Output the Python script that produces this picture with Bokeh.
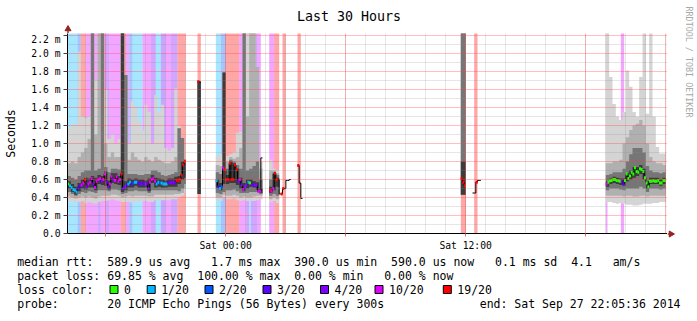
import math
import re
from bokeh.plotting import figure
from bokeh.layouts import column, row
from bokeh.models import Range1d, FixedTicker, CustomJSTickFormatter, Span
from bokeh.core.properties import value
from bokeh.embed import file_html
from bokeh.resources import INLINE

# ---------------- time base ----------------
step_h = 5 / 60.0                              # 300 s steps, in hours
start_hour = -(7 + 54 / 60 + 24 / 3600)        # Fri 16:05:36 relative to Sat 00:00
span_hours = 30

# ---------------- loss classes ----------------
loss_levels = [0, 1, 2, 3, 4, 10, 19]
loss_colors = ["#26ff00", "#00b8ff", "#0059ff", "#5e00ff", "#7e00ff", "#dd00ff", "#ff0000"]
loss_names = ["0", "1/20", "2/20", "3/20", "4/20", "10/20", "19/20"]

# ---------------- loss background stripes (step index, length, lost pings) ----------------
stripe_start = [0, 6, 8, 11, 18, 20, 23, 25, 32, 35, 37, 39, 45, 50, 53, 56, 59, 62, 66,
                78, 89, 92, 95, 103, 107, 109, 110, 114, 121, 124, 129, 138, 236, 244, 323, 332]
stripe_len = [6, 2, 3, 7, 2, 3, 2, 7, 3, 2, 2, 6, 5, 3, 3, 3, 3, 4, 5,
              2, 3, 3, 8, 4, 2, 1, 4, 2, 3, 3, 2, 2, 3, 2, 1, 2]
stripe_loss = [1, 2, 19, 10, 4, 10, 4, 10, 19, 10, 2, 1, 10, 4, 1, 3, 10, 4, 19,
               19, 1, 2, 19, 10, 4, 1, 4, 10, 10, 19, 19, 19, 19, 19, 10, 10]

# ---------------- smoke (ping distribution) columns, in ms ----------------
smoke_start = [*range(0, 71, 2), 78, *range(89, 116, 2), 121, 123, 125, 236, 238, *range(323, 358, 2)]
smoke_n = [2] * 35 + [1] + [2] + [2] * 14 + [2] * 3 + [2, 1] + [2] * 18

smoke_lo1 = [0.36, 0.35, 0.34, 0.35, 0.36, 0.34, 0.35, 0.34, 0.33, 0.35,
             0.36, 0.36, 0.37, 0.38, 0.37, 0.36, 0.35, 0.35, 0.35, 0.34,
             0.35, 0.36, 0.36, 0.36, 0.35, 0.35, 0.37, 0.37, 0.37, 0.37,
             0.37, 0.38, 0.38, 0.40, 0.42, 0.45,
             0.44,
             0.37, 0.36, 0.40, 0.38, 0.38, 0.39, 0.37, 0.36, 0.37, 0.36, 0.36, 0.36, 0.37, 0.38,
             0.35, 0.36, 0.34,
             0.43, 0.43,
             0.35, 0.35, 0.34, 0.33, 0.34, 0.33, 0.32, 0.32, 0.31, 0.31, 0.32, 0.33, 0.33, 0.33, 0.34, 0.34, 0.35, 0.35]
smoke_lo2 = [0.41, 0.40, 0.39, 0.40, 0.41, 0.40, 0.41, 0.40, 0.39, 0.41,
             0.42, 0.42, 0.42, 0.43, 0.43, 0.42, 0.40, 0.41, 0.42, 0.41,
             0.42, 0.42, 0.42, 0.42, 0.41, 0.41, 0.43, 0.43, 0.43, 0.43,
             0.43, 0.43, 0.44, 0.44, 0.45, 0.50,
             0.44,
             0.40, 0.40, 0.43, 0.42, 0.42, 0.43, 0.42, 0.40, 0.41, 0.40, 0.40, 0.41, 0.42, 0.42,
             0.38, 0.40, 0.38,
             0.43, 0.43,
             0.42, 0.42, 0.42, 0.42, 0.42, 0.41, 0.42, 0.42, 0.41, 0.41, 0.42, 0.42, 0.41, 0.42, 0.42, 0.42, 0.42, 0.42]
smoke_lo3 = [0.46, 0.44, 0.42, 0.44, 0.46, 0.45, 0.47, 0.46, 0.45, 0.48,
             0.48, 0.48, 0.47, 0.49, 0.49, 0.48, 0.44, 0.45, 0.47, 0.47,
             0.48, 0.47, 0.47, 0.47, 0.45, 0.48, 0.48, 0.48, 0.48, 0.48,
             0.48, 0.48, 0.48, 0.47, 0.50, 0.55,
             0.44,
             0.45, 0.44, 0.46, 0.48, 0.48, 0.49, 0.47, 0.45, 0.45, 0.45, 0.46, 0.46, 0.46, 0.44,
             0.42, 0.44, 0.42,
             0.43, 0.43,
             0.48, 0.50, 0.50, 0.50, 0.49, 0.48, 0.50, 0.50, 0.50, 0.50, 0.52, 0.50, 0.46, 0.50, 0.50, 0.50, 0.49, 0.50]
smoke_lo4 = [0.50, 0.46, 0.43, 0.47, 0.50, 0.49, 0.51, 0.51, 0.48, 0.55,
             0.54, 0.53, 0.49, 0.56, 0.55, 0.54, 0.46, 0.48, 0.51, 0.51,
             0.53, 0.51, 0.51, 0.51, 0.47, 0.56, 0.51, 0.52, 0.51, 0.51,
             0.52, 0.52, 0.52, 0.55, 0.60, 0.62,
             0.44,
             0.51, 0.48, 0.55, 0.55, 0.56, 0.56, 0.54, 0.50, 0.47, 0.50, 0.52, 0.51, 0.49, 0.45,
             0.45, 0.48, 0.52,
             0.43, 0.43,
             0.52, 0.55, 0.56, 0.55, 0.54, 0.53, 0.58, 0.60, 0.62, 0.64, 0.66, 0.60, 0.50, 0.55, 0.55, 0.55, 0.53, 0.55]
smoke_hi4 = [0.58, 0.55, 0.52, 0.56, 0.60, 0.62, 0.61, 0.64, 0.62, 0.65,
             0.64, 0.69, 0.59, 0.67, 0.67, 0.64, 2.23, 0.58, 0.61, 0.60,
             0.61, 0.60, 0.60, 0.59, 0.61, 0.65, 0.62, 0.61, 0.60, 0.59,
             0.61, 0.61, 0.63, 0.64, 0.80, 0.82,
             1.69,
             0.60, 0.56, 1.79, 0.65, 0.80, 0.78, 0.72, 0.62, 0.56, 0.60, 0.60, 0.58, 0.57, 0.50,
             0.52, 0.66, 0.62,
             0.80, 0.80,
             0.58, 0.61, 0.63, 0.62, 0.61, 0.61, 0.67, 0.70, 0.74, 0.74, 0.76, 0.72, 0.58, 0.62, 0.62, 0.62, 0.60, 0.62]
smoke_hi3 = [0.64, 0.62, 0.60, 0.64, 0.68, 0.70, 0.70, 2.23, 0.70, 0.72,
             2.23, 0.74, 0.68, 0.72, 0.72, 0.71, 2.23, 1.76, 0.66, 0.66,
             0.66, 0.65, 0.65, 0.66, 0.66, 0.70, 0.70, 0.68, 0.65, 0.64,
             0.65, 0.66, 0.68, 1.17, 1.06, 0.82,
             1.69,
             0.68, 0.66, 1.79, 0.72, 0.82, 0.80, 0.76, 0.72, 2.23, 0.70, 0.72, 0.75, 0.80, 0.60,
             0.60, 0.68, 0.65,
             2.23, 2.23,
             0.65, 0.66, 0.68, 0.68, 0.68, 0.72, 0.80, 0.88, 0.95, 0.95, 0.95, 0.90, 0.75, 0.70, 0.68, 0.68, 0.67, 0.68]
smoke_hi2 = [0.78, 0.80, 0.78, 0.85, 0.90, 0.95, 1.05, 2.23, 1.10, 2.23,
             2.23, 1.00, 0.85, 0.90, 0.85, 0.85, 2.23, 1.76, 0.82, 0.90,
             0.85, 0.82, 0.80, 0.85, 0.82, 0.80, 0.85, 0.82, 0.80, 0.78,
             0.78, 0.80, 0.85, 1.17, 1.06, 0.82,
             1.69,
             0.76, 0.75, 1.79, 0.80, 0.85, 0.83, 0.85, 0.95, 2.23, 1.30, 2.23, 2.23, 1.85, 0.72,
             0.70, 0.70, 0.67,
             2.23, 2.23,
             0.78, 0.78, 0.80, 0.80, 0.82, 1.00, 1.07, 1.15, 1.20, 1.22, 1.26, 1.20, 1.00, 0.85, 0.80, 0.78, 0.78, 0.76]
smoke_hi1 = [1.17, 1.21, 1.21, 2.02, 1.30, 1.28, 1.30, 2.23, 1.70, 2.23,
             2.23, 1.60, 1.05, 1.10, 1.00, 1.05, 2.23, 1.76, 1.00, 1.47,
             1.40, 1.25, 1.15, 1.43, 1.35, 1.00, 1.54, 1.35, 1.43, 0.95,
             0.92, 0.95, 1.61, 1.20, 1.06, 0.82,
             1.69,
             0.86, 0.88, 1.79, 0.86, 0.88, 0.90, 1.12, 1.13, 2.23, 2.23, 2.23, 2.23, 1.85, 0.80,
             0.82, 0.72, 0.70,
             2.23, 2.23,
             2.23, 1.74, 1.44, 1.30, 1.26, 1.35, 1.81, 1.63, 1.35, 1.30, 1.74, 2.23, 1.33, 2.23, 1.30, 0.96, 0.89, 0.89]

# ---------------- median rtt (ms) per step, with lost pings (None = no loss colour) ----------------
seg_start = [0, 78, 89, 121, 138, 236, 243, 323]
seg_median = [
    [0.55, 0.53, 0.51, 0.49, 0.48, 0.46, 0.50, 0.53, 0.54, 0.56,
     0.60, 0.52, 0.55, 0.57, 0.61, 0.55, 0.51, 0.58, 0.60, 0.61,
     0.58, 0.60, 0.66, 0.57, 0.52, 0.55, 0.63, 0.60, 0.59, 0.63,
     0.58, 0.60, 0.66, 0.50, 0.52, 0.54, 0.55, 0.57, 0.55, 0.56,
     0.57, 0.57, 0.56, 0.55, 0.55, 0.56, 0.55, 0.55, 0.50, 0.57,
     0.60, 0.61, 0.58, 0.55, 0.57, 0.56, 0.56, 0.55, 0.55, 0.55,
     0.57, 0.56, 0.56, 0.57, 0.56, 0.59, 0.59, 0.60, 0.65, 0.76, 0.80],
    [1.69, 1.68],
    [0.585, 0.52, 0.50, 0.52, 0.725, 0.71, 0.60, 0.60, 0.78, 0.60,
     0.60, 0.76, 0.71, 0.58, 0.60, 0.54, 0.49, 0.52, 0.54, 0.57,
     0.56, 0.54, 0.54, 0.54, 0.54, 0.47, 0.47, 0.84],
    [0.48, 0.47, 0.50, 0.67, 0.60, 0.60, 0.44, 0.44, 0.50, 0.50, 0.59, 0.59, 0.60],
    [0.755, 0.56, 0.39],
    [0.61, 0.57, 0.53],
    [0.45, 0.45, 0.57, 0.59, 0.59],
    [0.55, 0.57, 0.585, 0.59, 0.60, 0.60, 0.59, 0.585, 0.58, 0.58,
     0.55, 0.59, 0.66, 0.61, 0.64, 0.68, 0.66, 0.73, 0.69, 0.68,
     0.72, 0.71, 0.69, 0.62, 0.56, 0.52, 0.58, 0.58, 0.585, 0.58,
     0.58, 0.59, 0.56, 0.56, 0.59, 0.59],
]
seg_loss = [
    [0, 1, 1, 1, 1, 1, 3, 3, 10, 10,
     19, 4, 10, 10, 10, 4, 10, 10, 10, 10,
     4, 10, 10, 4, 4, 10, 10, 4, 10, 10,
     10, 10, 19, 4, 4, 3, 1, 1, 3, 2,
     1, 1, 3, 3, 4, 3, 4, 4, 4, 10,
     10, 10, 10, 1, 1, 2, 1, 1, 1, 1,
     3, 4, 4, 4, 3, 19, 19, 19, 19, 19, 19],
    [19, None],
    [1, 3, 1, 2, 10, 19, 19, 19, 19, 19,
     19, 19, 19, 4, 10, 4, 10, 4, 4, 1,
     0, 4, 3, 4, 4, 10, 10, None],
    [19, 10, 10, 19, 19, None, None, 19, 19, None, None, None, None],
    [19, None, None],
    [19, 19, 19],
    [None, None, 19, None, None],
    [10, 0, 0, 0, 0, 0, 0, 0, 0, 4,
     3, 0, 0, 0, 0, 0, 0, 0, 0, 0,
     0, 0, 0, 0, 0, 0, 0, 0, 0, 0,
     0, 0, 0, 0, 0, 0],
]

# ---------------- texts ----------------
title_text = "Last 30 Hours"
y_label = "Seconds"
x_tick_hours = [-6, 0, 6, 12, 18]
x_tick_names = {0: "Sat 00:00", 12: "Sat 12:00"}
y_ticks = [0.0, 0.2, 0.4, 0.6, 0.8, 1.0, 1.2, 1.4, 1.6, 1.8, 2.0, 2.2]
y_minor = [0.1, 0.3, 0.5, 0.7, 0.9, 1.1, 1.3, 1.5, 1.7, 1.9, 2.1]
stat_lines = [
    "median rtt:  589.9 us avg   1.7 ms max  390.0 us min  590.0 us now   0.1 ms sd  4.1   am/s",
    "packet loss: 69.85 % avg  100.00 % max  0.00 % min   0.00 % now",
    "loss color:",
    "probe:       20 ICMP Echo Pings (56 Bytes) every 300s",
]
end_text = "end: Sat Sep 27 22:05:36 2014"
watermark = "RRDTOOL / TOBI OETIKER"

MONO = "DejaVu Sans Mono"
ARROW = "#9b2020"
color_of = dict(zip(loss_levels, loss_colors))

# page geometry (pixels)
W, H = 697, 321
FL, FT, FW, FH = 67, 33, 600, 200
MAIN_B = 22                     # room under the frame for the time labels
RW = W - FL - FW                # strip right of the frame
LEG_TOP = FT + FH + MAIN_B      # where the statistics block starts
CHAR_W = 0.6021 * 11.5          # advance of DejaVu Sans Mono at 11.5px


def blank(width, height, x0, x1, y0, y1):
    f = figure(width=width, height=height, output_backend="svg", toolbar_location=None,
               x_range=Range1d(x0, x1), y_range=Range1d(y0, y1),
               x_axis_type=None, y_axis_type=None, title=None,
               min_border_left=0, min_border_right=0, min_border_top=0, min_border_bottom=0)
    f.outline_line_color = None
    f.background_fill_color = "white"
    f.border_fill_color = "white"
    f.grid.visible = False
    return f


# ---------------- main plot ----------------
p = figure(width=FL + FW, height=FH + MAIN_B, output_backend="svg", toolbar_location=None,
           x_range=Range1d(start_hour, start_hour + span_hours), y_range=Range1d(0, FH / 90.0),
           min_border_left=FL, min_border_right=0, min_border_top=0,
           min_border_bottom=MAIN_B, title=None)
p.outline_line_color = None
p.background_fill_color = "white"
p.border_fill_color = "white"

# loss stripes
sl, sr, sc = [], [], []
for s, n, l in zip(stripe_start, stripe_len, stripe_loss):
    sl.append(start_hour + s * step_h)
    sr.append(start_hour + (s + n) * step_h)
    sc.append(color_of[l])
p.quad(left=sl, right=sr, bottom=0, top=2.4, fill_color=sc, fill_alpha=0.35, line_color=None)


def band_polys(lo, hi):
    pxs, pys = [], []
    top_x, top_y, bot = [], [], []
    prev_end = None
    for s, n, a, b in zip(smoke_start, smoke_n, lo, hi):
        if prev_end is not None and s != prev_end and top_x:
            pxs.append(top_x + [q[0] for q in reversed(bot)])
            pys.append(top_y + [q[1] for q in reversed(bot)])
            top_x, top_y, bot = [], [], []
        xl = start_hour + s * step_h
        xr = start_hour + (s + n) * step_h
        top_x += [xl, xr]
        top_y += [b, b]
        bot += [(xl, a), (xr, a)]
        prev_end = s + n
    if top_x:
        pxs.append(top_x + [q[0] for q in reversed(bot)])
        pys.append(top_y + [q[1] for q in reversed(bot)])
    return pxs, pys


band_defs = [(smoke_lo1, smoke_hi1, "#d4d4d4"), (smoke_lo2, smoke_hi2, "#b0b0b0"),
             (smoke_lo3, smoke_hi3, "#767676"), (smoke_lo4, smoke_hi4, "#3c3c3c")]
for lo, hi, col in band_defs:
    xs, ys = band_polys(lo, hi)
    p.patches(xs, ys, fill_color=col, line_color=None)

# median line + loss-coloured points
lx, ly, mx, my, mc = [], [], [], [], []
for s0, vals, losses in zip(seg_start, seg_median, seg_loss):
    for i, (v, l) in enumerate(zip(vals, losses)):
        xl = start_hour + (s0 + i) * step_h
        lx += [xl, xl + step_h]
        ly += [v, v]
        if l is not None:
            mx.append(xl + step_h / 2)
            my.append(v)
            mc.append(color_of[l])
    lx.append(float("nan"))
    ly.append(float("nan"))
p.line(lx, ly, line_color="black", line_width=1)
p.rect(mx, my, width=2, height=3, width_units="screen", height_units="screen",
       fill_color=mc, line_color=None)

# axes / grid
p.xaxis.ticker = FixedTicker(ticks=x_tick_hours, minor_ticks=list(range(-7, 23)))
p.xaxis.formatter = CustomJSTickFormatter(
    code="return tick == 0 ? '%s' : (tick == 12 ? '%s' : '');" % (x_tick_names[0], x_tick_names[12]))
p.yaxis.ticker = FixedTicker(ticks=y_ticks, minor_ticks=y_minor)
p.yaxis.formatter = CustomJSTickFormatter(code="return tick < 0.05 ? '0.0' : tick.toFixed(1) + ' m';")
for ax in (p.xaxis[0], p.yaxis[0]):
    ax.axis_line_color = "black"
    ax.major_label_text_font = MONO
    ax.major_label_text_font_size = "9.7px"
    ax.major_label_text_color = "black"
    ax.minor_tick_line_color = None
    ax.major_tick_in = 0
p.xaxis.major_tick_line_color = "#e07070"
p.xaxis.major_tick_out = 3
p.xaxis.major_label_standoff = 2
p.yaxis.major_tick_line_color = "#404040"
p.yaxis.major_tick_out = 4
p.yaxis.major_label_standoff = 3
p.yaxis.axis_label = y_label
p.yaxis.axis_label_text_font = MONO
p.yaxis.axis_label_text_font_size = "11.5px"
p.yaxis.axis_label_text_font_style = "normal"
p.yaxis.axis_label_text_color = "black"
p.yaxis.axis_label_standoff = 10

for g in (p.xgrid[0], p.ygrid[0]):
    g.grid_line_color = "#ff4040"
    g.grid_line_alpha = 0.33
    g.minor_grid_line_color = "#8c8c8c"
    g.minor_grid_line_alpha = 0.22
    g.level = "overlay"
p.add_layout(Span(location=22, dimension="height", line_color="#ff4040", line_alpha=0.33,
                  level="overlay"))

# ---------------- strip above the plot: title + y-axis arrow ----------------
top = blank(FL + FW, FT, 0, FL + FW, FT, 0)
top.text(x=[W / 2], y=[15.7], text=[title_text], text_font=value(MONO),
         text_font_size=value("13.3px"), text_align="center", text_baseline="middle",
         text_color="black")
top.segment(x0=[FL + 0.5], y0=[FT], x1=[FL + 0.5], y1=[FT - 3], line_color="black", line_width=1)
top.scatter(x=[FL + 0.5], y=[FT - 4.5], marker="triangle", size=6, fill_color=ARROW, line_color=ARROW)

# ---------------- strip right of the plot: watermark + x-axis arrow ----------------
right = blank(RW, FT + FH + MAIN_B, FL + FW, W, FT + FH + MAIN_B, 0)
right.text(x=[688], y=[61.5], text=[watermark], angle=-math.pi / 2, text_font=value(MONO),
           text_font_size=value("8.4px"), text_align="center", text_baseline="middle",
           text_color="#a8a8a8")
right.segment(x0=[FL + FW], y0=[FT + FH + 0.5], x1=[FL + FW + 2], y1=[FT + FH + 0.5],
              line_color="black", line_width=1)
right.scatter(x=[FL + FW + 3.5], y=[FT + FH + 0.5], marker="triangle", size=6, angle=-math.pi / 2,
              fill_color=ARROW, line_color=ARROW)

# ---------------- statistics block below ----------------
leg = blank(W, H - LEG_TOP, 0, W, H, LEG_TOP)
line_y = [261, 275.3, 289, 303.6]
cx_, cy_, ct_ = [], [], []
for line, yy in zip(stat_lines, line_y):
    for m in re.finditer(r"\S+(?: \S+)*", line):      # keep monospace columns of each chunk
        cx_.append(16.7 + m.start() * CHAR_W)
        cy_.append(yy)
        ct_.append(m.group())
leg.text(x=cx_, y=cy_, text=ct_, text_font=value(MONO),
         text_font_size=value("11.5px"), text_align="left", text_baseline="middle", text_color="black")
leg.text(x=[680], y=[line_y[3]], text=[end_text], text_font=value(MONO),
         text_font_size=value("11.5px"), text_align="right", text_baseline="middle", text_color="black")
box_x = [109.5, 146.7, 204.5, 262.5, 320.0, 374.5, 442.8]
leg.rect(x=[b + 4 for b in box_x], y=[line_y[2]] * len(box_x), width=8, height=8,
         fill_color=loss_colors, line_color="black", line_width=1)
leg.text(x=[b + 14 for b in box_x], y=[line_y[2]] * len(box_x), text=loss_names, text_font=value(MONO),
         text_font_size=value("11.5px"), text_align="left", text_baseline="middle", text_color="black")

page = column(row(column(top, row(p), spacing=0), right, spacing=0), leg, spacing=0)
open("out.html", "w").write(file_html(page, INLINE))
